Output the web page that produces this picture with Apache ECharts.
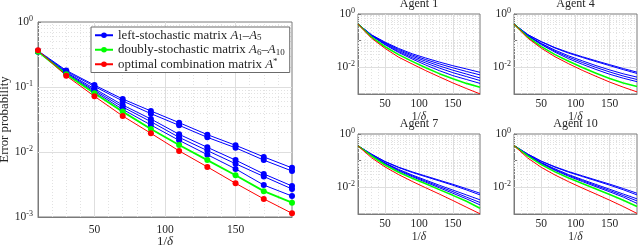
<!DOCTYPE html>
<html>
<head>
<meta charset="utf-8">
<script src="https://cdn.jsdelivr.net/npm/echarts@6/dist/echarts.min.js"></script>
<style>html,body{margin:0;padding:0;background:#fff}#c{width:640px;height:248px}</style>
</head>
<body>
<div id="c"></div>
<script>
// ---------- data ----------
const xValues = [10, 30, 50, 70, 90, 110, 130, 150, 170, 190];

// main plot (markers)
const mainBlue1 = [0.360, 0.180, 0.107, 0.0654, 0.0428, 0.0283, 0.0185, 0.0127, 0.0084, 0.0057];
const mainBlue2 = [0.355, 0.174, 0.102, 0.0610, 0.0389, 0.0257, 0.0168, 0.0116, 0.0075, 0.0051];
const mainBlue3 = [0.355, 0.168, 0.094, 0.0529, 0.0322, 0.0187, 0.0118, 0.0075, 0.0046, 0.0030];
const mainBlue4 = [0.352, 0.164, 0.089, 0.0492, 0.0293, 0.0168, 0.0105, 0.0066, 0.0042, 0.0027];
const mainBlue5 = [0.350, 0.160, 0.085, 0.0453, 0.0260, 0.0151, 0.0091, 0.0055, 0.0031, 0.0021];
const mainGreen = [0.350, 0.157, 0.080, 0.0418, 0.0226, 0.0128, 0.0075, 0.0044, 0.0025, 0.00166];
const mainRed   = [0.366, 0.149, 0.072, 0.0358, 0.0194, 0.0104, 0.0059, 0.0033, 0.0019, 0.00114];

// Agent 1
const ag1Blue1 = [0.42, 0.165, 0.088, 0.051, 0.0323, 0.0223, 0.0158, 0.0115, 0.0087, 0.0065];
const ag1Blue2 = [0.42, 0.162, 0.083, 0.047, 0.0290, 0.0195, 0.0135, 0.0096, 0.0070, 0.0052];
const ag1Blue3 = [0.42, 0.158, 0.079, 0.043, 0.0260, 0.0170, 0.0113, 0.0078, 0.0056, 0.0040];
const ag1Blue4 = [0.42, 0.154, 0.074, 0.039, 0.0230, 0.0145, 0.0094, 0.0063, 0.0045, 0.0032];
const ag1Blue5 = [0.42, 0.151, 0.070, 0.036, 0.0205, 0.0122, 0.0075, 0.0049, 0.0035, 0.0025];
const ag1Green = [0.42, 0.135, 0.059, 0.030, 0.0167, 0.0097, 0.0058, 0.0037, 0.0025, 0.0018];
const ag1Red   = [0.42, 0.124, 0.051, 0.024, 0.0133, 0.0075, 0.0044, 0.0026, 0.0016, 0.00101];

// Agent 4
const ag4Blue1 = [0.42, 0.170, 0.092, 0.055, 0.036, 0.0250, 0.0176, 0.0126, 0.0090, 0.0066];
const ag4Blue2 = [0.42, 0.168, 0.090, 0.053, 0.034, 0.0235, 0.0164, 0.0116, 0.0082, 0.0059];
const ag4Blue3 = [0.42, 0.158, 0.079, 0.044, 0.027, 0.0175, 0.0116, 0.0080, 0.0057, 0.0043];
const ag4Blue4 = [0.42, 0.154, 0.075, 0.040, 0.024, 0.0152, 0.0099, 0.0067, 0.0047, 0.0035];
const ag4Blue5 = [0.42, 0.151, 0.071, 0.037, 0.021, 0.0130, 0.0083, 0.0055, 0.0039, 0.0029];
const ag4Green = [0.42, 0.137, 0.060, 0.030, 0.017, 0.0099, 0.0060, 0.0038, 0.0026, 0.0019];
const ag4Red   = [0.42, 0.126, 0.052, 0.025, 0.0136, 0.0077, 0.0046, 0.0028, 0.0018, 0.0012];

// Agent 7
const ag7Blue1 = [0.36, 0.175, 0.093, 0.057, 0.038, 0.0265, 0.0185, 0.0130, 0.0089, 0.0060];
const ag7Blue2 = [0.36, 0.173, 0.091, 0.055, 0.036, 0.0250, 0.0174, 0.0120, 0.0080, 0.0052];
const ag7Blue3 = [0.36, 0.165, 0.082, 0.047, 0.029, 0.0186, 0.0120, 0.0079, 0.0052, 0.0034];
const ag7Blue4 = [0.36, 0.162, 0.079, 0.044, 0.027, 0.0170, 0.0107, 0.0069, 0.0043, 0.0027];
const ag7Blue5 = [0.36, 0.158, 0.076, 0.041, 0.025, 0.0155, 0.0096, 0.0060, 0.0037, 0.0022];
const ag7Green = [0.36, 0.150, 0.069, 0.037, 0.022, 0.0135, 0.0082, 0.0050, 0.0030, 0.00165];
const ag7Red   = [0.36, 0.128, 0.058, 0.030, 0.0166, 0.0096, 0.0056, 0.0032, 0.0018, 0.00102];

// Agent 10
const ag10Blue1 = [0.37, 0.178, 0.096, 0.059, 0.039, 0.0270, 0.0188, 0.0132, 0.0090, 0.0060];
const ag10Blue2 = [0.37, 0.176, 0.094, 0.057, 0.037, 0.0255, 0.0176, 0.0121, 0.0081, 0.0052];
const ag10Blue3 = [0.37, 0.168, 0.085, 0.049, 0.030, 0.0195, 0.0128, 0.0085, 0.0056, 0.0037];
const ag10Blue4 = [0.37, 0.165, 0.082, 0.046, 0.028, 0.0180, 0.0116, 0.0076, 0.0049, 0.0031];
const ag10Blue5 = [0.37, 0.161, 0.078, 0.043, 0.026, 0.0165, 0.0105, 0.0068, 0.0043, 0.0025];
const ag10Green = [0.37, 0.152, 0.071, 0.038, 0.0225, 0.0140, 0.0087, 0.0054, 0.0033, 0.0019];
const ag10Red   = [0.37, 0.126, 0.056, 0.029, 0.0162, 0.0094, 0.0056, 0.0033, 0.0019, 0.00105];

// ticks / labels
const xTickLabels = [50, 100, 150];
const xMinorTicks = [20, 30, 40, 60, 70, 80, 90, 110, 120, 130, 140, 160, 170, 180];
const yMainMajor = [0.1, 0.01];
const ySmallMajor = [0.01];
const panelTitles = ['Agent 1', 'Agent 4', 'Agent 7', 'Agent 10'];
const seriesNames = ['left-stochastic matrix A1–A5', 'doubly-stochastic matrix A6–A10', 'optimal combination matrix A*'];

// ---------- style ----------
const FONT = 'Liberation Serif';
const TXT = '#262626';
const FRAME = '#7a7a7a';
const BLUE = '#0000ff', GREEN = '#00ff00', RED = '#ff0000';

const yMinor = [];
[0.001, 0.01, 0.1].forEach(d => { for (let k = 2; k <= 9; k++) yMinor.push(+(k * d).toPrecision(3)); });

const grids = [
  {left: 38, top: 22, width: 254, height: 195},
  {left: 358, top: 14, width: 122, height: 80},
  {left: 514, top: 14, width: 123, height: 80},
  {left: 358, top: 134, width: 122, height: 80},
  {left: 514, top: 134, width: 123, height: 80}
];

const supRich = {
  b: {fontFamily: FONT, fontSize: 11.5, color: TXT, lineHeight: 14},
  s: {fontFamily: FONT, fontSize: 8, color: TXT, lineHeight: 8, verticalAlign: 'top'}
};
const nameRichMain = {
  t: {fontFamily: FONT, fontSize: 13, color: TXT},
  i: {fontFamily: FONT, fontSize: 13, color: TXT, fontStyle: 'italic'}
};
const nameRichSmall = {
  t: {fontFamily: FONT, fontSize: 11.5, color: TXT},
  i: {fontFamily: FONT, fontSize: 11.5, color: TXT, fontStyle: 'italic'}
};

const xAxes = grids.map((g, i) => ({
  type: 'value', gridIndex: i, min: 10, max: 190,
  axisLine: {show: true, lineStyle: {color: FRAME, width: 1}},
  axisTick: {show: true, inside: true, length: 3, customValues: xTickLabels, lineStyle: {color: FRAME}},
  axisLabel: {customValues: xTickLabels, fontFamily: FONT, fontSize: 11.5, color: TXT, margin: i === 0 ? 7 : 4},
  splitLine: {show: false},
  name: '{t|1/}{i|δ}', nameLocation: 'middle', nameGap: i === 0 ? 18 : 13,
  nameMoveOverlap: i === 0 ? false : true,
  nameTextStyle: {rich: i === 0 ? nameRichMain : nameRichSmall}
}));

const yAxes = grids.map((g, i) => ({
  type: 'log', logBase: 10, gridIndex: i, min: 0.001, max: 1,
  axisLine: {show: true, lineStyle: {color: FRAME, width: 1}},
  axisTick: {show: true, inside: true, length: 3, lineStyle: {color: FRAME}},
  axisLabel: {
    margin: i === 0 ? 5 : 3,
    formatter: v => {
      const e = Math.round(Math.log10(v));
      if (i > 0 && (e === -1 || e === -3)) return '';
      return '{b|10}{s|' + e + '}';
    },
    rich: supRich
  },
  splitLine: {show: false},
  name: i === 0 ? 'Error probability' : '', nameLocation: 'middle', nameGap: 23,
  nameTextStyle: {fontFamily: FONT, fontSize: 12.8, color: TXT}
}));

const series = [];

// gridline series
grids.forEach((g, i) => {
  const major = i === 0 ? yMainMajor : ySmallMajor;
  const minor = i === 0 ? yMinor : yMinor.concat([0.1]);
  const solid = {color: '#dedede', width: 1, type: 'solid'};
  const dotted = {color: '#e2e2e2', width: 1, type: [1, 2]};
  const d = [];
  minor.forEach(v => d.push({yAxis: v, lineStyle: dotted}));
  xMinorTicks.forEach(v => d.push({xAxis: v, lineStyle: dotted}));
  major.forEach(v => d.push({yAxis: v, lineStyle: solid}));
  xTickLabels.forEach(v => d.push({xAxis: v, lineStyle: solid}));
  series.push({
    type: 'line', xAxisIndex: i, yAxisIndex: i, data: [], silent: true, z: 1,
    markLine: {silent: true, z: 1, symbol: 'none', label: {show: false}, animation: false, data: d}
  });
});

const toPts = arr => xValues.map((x, k) => [x, arr[k]]);

function addMain(arr, color, name, lw) {
  series.push({
    type: 'line', name: name, xAxisIndex: 0, yAxisIndex: 0, data: toPts(arr), z: 3,
    symbol: 'circle', symbolSize: 6, showSymbol: true,
    lineStyle: {color: color, width: lw}, itemStyle: {color: color}
  });
}
[mainBlue1, mainBlue2, mainBlue3, mainBlue4, mainBlue5].forEach(a => addMain(a, BLUE, seriesNames[0], 1));
addMain(mainGreen, GREEN, seriesNames[1], 1.8);
addMain(mainRed, RED, seriesNames[2], 1);

const panels = [
  [[ag1Blue1, ag1Blue2, ag1Blue3, ag1Blue4, ag1Blue5], ag1Green, ag1Red],
  [[ag4Blue1, ag4Blue2, ag4Blue3, ag4Blue4, ag4Blue5], ag4Green, ag4Red],
  [[ag7Blue1, ag7Blue2, ag7Blue3, ag7Blue4, ag7Blue5], ag7Green, ag7Red],
  [[ag10Blue1, ag10Blue2, ag10Blue3, ag10Blue4, ag10Blue5], ag10Green, ag10Red]
];
panels.forEach((p, k) => {
  const gi = k + 1;
  const add = (arr, color, lw) => series.push({
    type: 'line', name: 'p' + gi, xAxisIndex: gi, yAxisIndex: gi, data: toPts(arr), z: 3,
    showSymbol: false, symbol: 'none', lineStyle: {color: color, width: lw}
  });
  p[0].forEach(a => add(a, BLUE, 1));
  add(p[1], GREEN, 1.6);
  add(p[2], RED, 1);
});

const legendFmt = {};
legendFmt[seriesNames[0]] = '{t|left-stochastic matrix }{i|A}{s|1}{t|–}{i|A}{s|5}';
legendFmt[seriesNames[1]] = '{t|doubly-stochastic matrix }{i|A}{s|6}{t|–}{i|A}{s|10}';
legendFmt[seriesNames[2]] = '{t|optimal combination matrix }{i|A}{p|*}';

const titles = panelTitles.map((t, k) => {
  const g = grids[k + 1];
  return {
    text: t, left: g.left + g.width / 2, top: g.top - 16, textAlign: 'center', padding: 0,
    textStyle: {fontFamily: FONT, fontSize: 12, fontWeight: 'normal', color: TXT}
  };
});

const LF = 12.9;
const option = {
  animation: false,
  backgroundColor: '#fff',
  title: titles,
  grid: grids.map(g => Object.assign({show: true, borderColor: FRAME, borderWidth: 1, backgroundColor: '#fff', containLabel: false, outerBoundsMode: 'none'}, g)),
  xAxis: xAxes,
  yAxis: yAxes,
  legend: {
    data: seriesNames, left: 91, top: 27, orient: 'vertical',
    backgroundColor: '#fff', borderColor: '#6b6b6b', borderWidth: 1,
    padding: [1, 5, 1, 3], itemGap: 0, itemWidth: 18, itemHeight: 7,
    selectedMode: false,
    formatter: n => legendFmt[n],
    textStyle: {
      fontFamily: FONT, fontSize: LF, color: TXT, lineHeight: 14.5,
      rich: {
        t: {fontFamily: FONT, fontSize: LF, color: TXT, lineHeight: 14.5},
        i: {fontFamily: FONT, fontSize: LF, color: TXT, fontStyle: 'italic', lineHeight: 14.5},
        s: {fontFamily: FONT, fontSize: 9, color: TXT, lineHeight: 9, verticalAlign: 'bottom'},
        p: {fontFamily: FONT, fontSize: 9, color: TXT, lineHeight: 9, verticalAlign: 'top'}
      }
    }
  },
  series: series
};

const chart = echarts.init(document.getElementById('c'), null, {renderer: 'canvas'});
chart.setOption(option);
</script>
</body>
</html>
